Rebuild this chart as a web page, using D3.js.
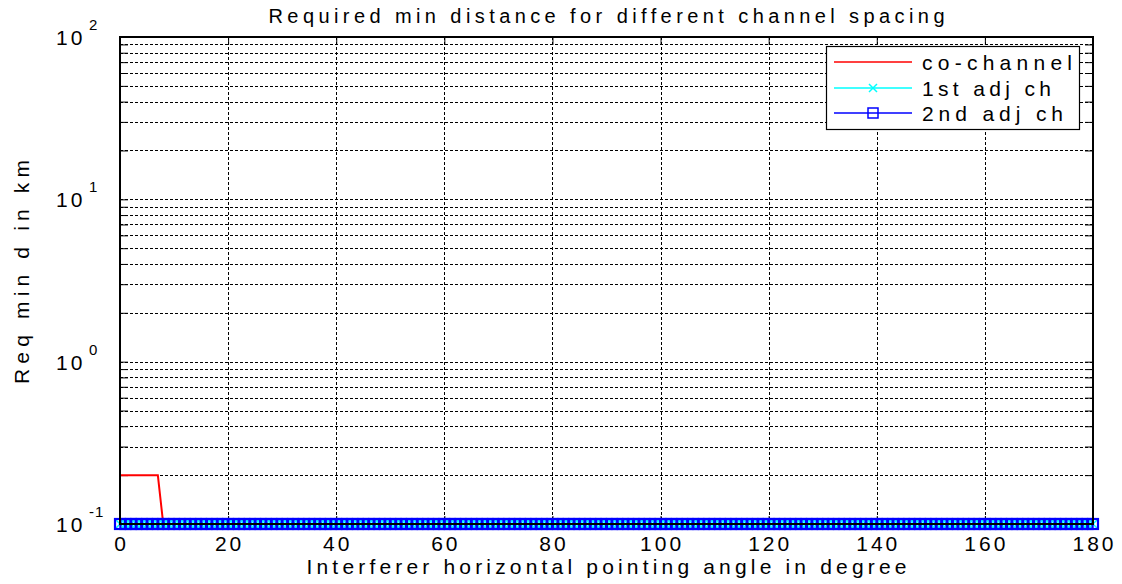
<!DOCTYPE html>
<html>
<head>
<meta charset="utf-8">
<script src="https://cdn.jsdelivr.net/npm/d3@7"></script>
<style>
  html, body { margin: 0; padding: 0; background: #fff; }
  svg { display: block; }
  text { font-family: "Liberation Sans", Arial, Helvetica, sans-serif; fill: #000; }
</style>
</head>
<body>
<svg id="chart" width="1122" height="584"></svg>
<script>
// Sampled interferer angles (degrees)
const angles = d3.range(0, 181, 1);

// Required minimum distance (km) per channel spacing
const coChannel = [
  0.2,0.2,0.2,0.2,0.2,0.2,0.2,0.2,0.1,0.1,
  0.1,0.1,0.1,0.1,0.1,0.1,0.1,0.1,0.1,0.1,
  0.1,0.1,0.1,0.1,0.1,0.1,0.1,0.1,0.1,0.1,
  0.1,0.1,0.1,0.1,0.1,0.1,0.1,0.1,0.1,0.1,
  0.1,0.1,0.1,0.1,0.1,0.1,0.1,0.1,0.1,0.1,
  0.1,0.1,0.1,0.1,0.1,0.1,0.1,0.1,0.1,0.1,
  0.1,0.1,0.1,0.1,0.1,0.1,0.1,0.1,0.1,0.1,
  0.1,0.1,0.1,0.1,0.1,0.1,0.1,0.1,0.1,0.1,
  0.1,0.1,0.1,0.1,0.1,0.1,0.1,0.1,0.1,0.1,
  0.1,0.1,0.1,0.1,0.1,0.1,0.1,0.1,0.1,0.1,
  0.1,0.1,0.1,0.1,0.1,0.1,0.1,0.1,0.1,0.1,
  0.1,0.1,0.1,0.1,0.1,0.1,0.1,0.1,0.1,0.1,
  0.1,0.1,0.1,0.1,0.1,0.1,0.1,0.1,0.1,0.1,
  0.1,0.1,0.1,0.1,0.1,0.1,0.1,0.1,0.1,0.1,
  0.1,0.1,0.1,0.1,0.1,0.1,0.1,0.1,0.1,0.1,
  0.1,0.1,0.1,0.1,0.1,0.1,0.1,0.1,0.1,0.1,
  0.1,0.1,0.1,0.1,0.1,0.1,0.1,0.1,0.1,0.1,
  0.1,0.1,0.1,0.1,0.1,0.1,0.1,0.1,0.1,0.1,
  0.1
];
const adj1 = [
  0.1,0.1,0.1,0.1,0.1,0.1,0.1,0.1,0.1,0.1,
  0.1,0.1,0.1,0.1,0.1,0.1,0.1,0.1,0.1,0.1,
  0.1,0.1,0.1,0.1,0.1,0.1,0.1,0.1,0.1,0.1,
  0.1,0.1,0.1,0.1,0.1,0.1,0.1,0.1,0.1,0.1,
  0.1,0.1,0.1,0.1,0.1,0.1,0.1,0.1,0.1,0.1,
  0.1,0.1,0.1,0.1,0.1,0.1,0.1,0.1,0.1,0.1,
  0.1,0.1,0.1,0.1,0.1,0.1,0.1,0.1,0.1,0.1,
  0.1,0.1,0.1,0.1,0.1,0.1,0.1,0.1,0.1,0.1,
  0.1,0.1,0.1,0.1,0.1,0.1,0.1,0.1,0.1,0.1,
  0.1,0.1,0.1,0.1,0.1,0.1,0.1,0.1,0.1,0.1,
  0.1,0.1,0.1,0.1,0.1,0.1,0.1,0.1,0.1,0.1,
  0.1,0.1,0.1,0.1,0.1,0.1,0.1,0.1,0.1,0.1,
  0.1,0.1,0.1,0.1,0.1,0.1,0.1,0.1,0.1,0.1,
  0.1,0.1,0.1,0.1,0.1,0.1,0.1,0.1,0.1,0.1,
  0.1,0.1,0.1,0.1,0.1,0.1,0.1,0.1,0.1,0.1,
  0.1,0.1,0.1,0.1,0.1,0.1,0.1,0.1,0.1,0.1,
  0.1,0.1,0.1,0.1,0.1,0.1,0.1,0.1,0.1,0.1,
  0.1,0.1,0.1,0.1,0.1,0.1,0.1,0.1,0.1,0.1,
  0.1
];
const adj2 = [
  0.1,0.1,0.1,0.1,0.1,0.1,0.1,0.1,0.1,0.1,
  0.1,0.1,0.1,0.1,0.1,0.1,0.1,0.1,0.1,0.1,
  0.1,0.1,0.1,0.1,0.1,0.1,0.1,0.1,0.1,0.1,
  0.1,0.1,0.1,0.1,0.1,0.1,0.1,0.1,0.1,0.1,
  0.1,0.1,0.1,0.1,0.1,0.1,0.1,0.1,0.1,0.1,
  0.1,0.1,0.1,0.1,0.1,0.1,0.1,0.1,0.1,0.1,
  0.1,0.1,0.1,0.1,0.1,0.1,0.1,0.1,0.1,0.1,
  0.1,0.1,0.1,0.1,0.1,0.1,0.1,0.1,0.1,0.1,
  0.1,0.1,0.1,0.1,0.1,0.1,0.1,0.1,0.1,0.1,
  0.1,0.1,0.1,0.1,0.1,0.1,0.1,0.1,0.1,0.1,
  0.1,0.1,0.1,0.1,0.1,0.1,0.1,0.1,0.1,0.1,
  0.1,0.1,0.1,0.1,0.1,0.1,0.1,0.1,0.1,0.1,
  0.1,0.1,0.1,0.1,0.1,0.1,0.1,0.1,0.1,0.1,
  0.1,0.1,0.1,0.1,0.1,0.1,0.1,0.1,0.1,0.1,
  0.1,0.1,0.1,0.1,0.1,0.1,0.1,0.1,0.1,0.1,
  0.1,0.1,0.1,0.1,0.1,0.1,0.1,0.1,0.1,0.1,
  0.1,0.1,0.1,0.1,0.1,0.1,0.1,0.1,0.1,0.1,
  0.1,0.1,0.1,0.1,0.1,0.1,0.1,0.1,0.1,0.1,
  0.1
];

const seriesNames = ["co-channel", "1st adj ch", "2nd adj ch"];
const xTicks = [0, 20, 40, 60, 80, 100, 120, 140, 160, 180];
const yDecades = [-1, 0, 1, 2];

const titleText = "Required min distance for different channel spacing";
const xLabelText = "Interferer horizontal pointing angle in degree";
const yLabelText = "Req min d in km";

// ---- layout ----
const plot = { left: 120, right: 1093, top: 37, bottom: 524 };
const LS = 3; // letter spacing for tick labels

const svg = d3.select("#chart");
const x = d3.scaleLinear().domain([0, 180]).range([plot.left, plot.right]);
const y = d3.scaleLog().domain([0.1, 100]).range([plot.bottom, plot.top]);

// minor/major y values for the log grid
const yGridVals = [];
for (let e = -1; e < 2; e++) {
  for (let m = 1; m <= 9; m++) yGridVals.push(m * Math.pow(10, e));
}
yGridVals.push(100);

// ---- grid ----
const grid = svg.append("g").attr("stroke", "#000").attr("stroke-width", 1)
  .attr("stroke-dasharray", "3,2").attr("fill", "none");
grid.selectAll("line.h").data(yGridVals.filter(v => v > 0.1 && v < 100)).join("line")
  .attr("x1", plot.left).attr("x2", plot.right)
  .attr("y1", d => Math.round(y(d)) + 0.5).attr("y2", d => Math.round(y(d)) + 0.5);
grid.selectAll("line.v").data(xTicks.filter(v => v > 0 && v < 180)).join("line")
  .attr("y1", plot.top).attr("y2", plot.bottom)
  .attr("x1", d => Math.round(x(d)) + 0.5).attr("x2", d => Math.round(x(d)) + 0.5);

// ---- ticks via d3 axes (inside, on all four sides) ----
const tickLen = 8;
const axB = d3.axisBottom(x).tickValues(xTicks).tickSize(-tickLen).tickFormat("");
const axT = d3.axisTop(x).tickValues(xTicks).tickSize(-tickLen).tickFormat("");
const axL = d3.axisLeft(y).tickValues(yGridVals).tickSize(-tickLen).tickFormat("");
const axR = d3.axisRight(y).tickValues(yGridVals).tickSize(-tickLen).tickFormat("");
function styleAxis(g) {
  g.select(".domain").remove();
  g.selectAll(".tick line").attr("stroke", "#000").attr("stroke-width", 1);
}
svg.append("g").attr("transform", `translate(0,${plot.bottom})`).call(axB).call(styleAxis);
svg.append("g").attr("transform", `translate(0,${plot.top})`).call(axT).call(styleAxis);
svg.append("g").attr("transform", `translate(${plot.left},0)`).call(axL).call(styleAxis);
svg.append("g").attr("transform", `translate(${plot.right},0)`).call(axR).call(styleAxis);

// ---- series ----
const line = d3.line().x((d, i) => x(angles[i])).y(d => y(d));

// co-channel: red line
svg.append("path").datum(coChannel)
  .attr("d", line).attr("fill", "none").attr("stroke", "#ff0000").attr("stroke-width", 2);

// 1st adj ch: cyan line with x markers
svg.append("path").datum(adj1)
  .attr("d", line).attr("fill", "none").attr("stroke", "#00ffff").attr("stroke-width", 1.5);
const xm = 4;
svg.append("g").selectAll("path").data(adj1).join("path")
  .attr("d", (d, i) => {
    const cx = x(angles[i]), cy = y(d);
    return `M${cx - xm},${cy - xm}L${cx + xm},${cy + xm}M${cx - xm},${cy + xm}L${cx + xm},${cy - xm}`;
  })
  .attr("stroke", "#00ffff").attr("stroke-width", 1.5).attr("fill", "none");

// 2nd adj ch: blue line with square markers
svg.append("path").datum(adj2)
  .attr("d", line).attr("fill", "none").attr("stroke", "#0000ff").attr("stroke-width", 1.5);
const sq = 5;
svg.append("g").selectAll("rect").data(adj2).join("rect")
  .attr("x", (d, i) => x(angles[i]) - sq).attr("y", d => y(d) - sq)
  .attr("width", sq * 2).attr("height", sq * 2)
  .attr("fill", "none").attr("stroke", "#0000ff").attr("stroke-width", 2.2);

// ---- frame ----
svg.append("rect")
  .attr("x", plot.left).attr("y", plot.top)
  .attr("width", plot.right - plot.left).attr("height", plot.bottom - plot.top)
  .attr("fill", "none").attr("stroke", "#000").attr("stroke-width", 2);

// ---- tick labels ----
svg.append("g").selectAll("text").data(xTicks).join("text")
  .attr("x", d => x(d) + LS / 2).attr("y", plot.bottom + 27)
  .attr("text-anchor", "middle").attr("font-size", 21)
  .attr("letter-spacing", LS)
  .text(d => d);

const yl = svg.append("g").selectAll("g").data(yDecades).join("g");
yl.append("text")
  .attr("x", 56).attr("y", d => y(Math.pow(10, d)) + 8)
  .attr("font-size", 21).attr("letter-spacing", 3)
  .text("10");
yl.append("text")
  .attr("x", 89).attr("y", d => y(Math.pow(10, d)) - 7)
  .attr("font-size", 15).attr("letter-spacing", 1)
  .text(d => d);

// ---- titles (widths fixed with textLength) ----
const cx = (plot.left + plot.right) / 2;
svg.append("text")
  .attr("x", cx).attr("y", 23)
  .attr("text-anchor", "middle").attr("font-size", 20)
  .attr("textLength", 676).attr("lengthAdjust", "spacing")
  .text(titleText);
svg.append("text")
  .attr("x", cx).attr("y", 574)
  .attr("text-anchor", "middle").attr("font-size", 21)
  .attr("textLength", 600).attr("lengthAdjust", "spacing")
  .text(xLabelText);
svg.append("text")
  .attr("transform", "translate(29,272) rotate(-90)")
  .attr("text-anchor", "middle").attr("font-size", 21)
  .attr("textLength", 224).attr("lengthAdjust", "spacing")
  .text(yLabelText);

// ---- legend ----
const lg = { left: 826, top: 46, right: 1079, bottom: 129 };
const legend = svg.append("g");
legend.append("rect")
  .attr("x", lg.left + 0.5).attr("y", lg.top + 0.5)
  .attr("width", lg.right - lg.left).attr("height", lg.bottom - lg.top)
  .attr("fill", "#fff").attr("stroke", "#000").attr("stroke-width", 1.2);
const rowsY = [62, 88, 113];
const colors = ["#ff0000", "#00ffff", "#0000ff"];
const legendWidths = [150, 129, 141];
const lineX1 = 834, lineX2 = 912, mx = (lineX1 + lineX2) / 2;
seriesNames.forEach((name, i) => {
  const ry = rowsY[i];
  legend.append("line").attr("x1", lineX1).attr("x2", lineX2).attr("y1", ry).attr("y2", ry)
    .attr("stroke", colors[i]).attr("stroke-width", 1.5);
  if (i === 1) {
    legend.append("path")
      .attr("d", `M${mx - xm},${ry - xm}L${mx + xm},${ry + xm}M${mx - xm},${ry + xm}L${mx + xm},${ry - xm}`)
      .attr("stroke", colors[i]).attr("stroke-width", 1.5);
  }
  if (i === 2) {
    legend.append("rect").attr("x", mx - sq).attr("y", ry - sq)
      .attr("width", sq * 2).attr("height", sq * 2)
      .attr("fill", "none").attr("stroke", colors[i]).attr("stroke-width", 1.5);
  }
  legend.append("text").attr("x", 922).attr("y", ry + 8)
    .attr("font-size", 21)
    .attr("textLength", legendWidths[i]).attr("lengthAdjust", "spacing")
    .text(name);
});
</script>
</body>
</html>
